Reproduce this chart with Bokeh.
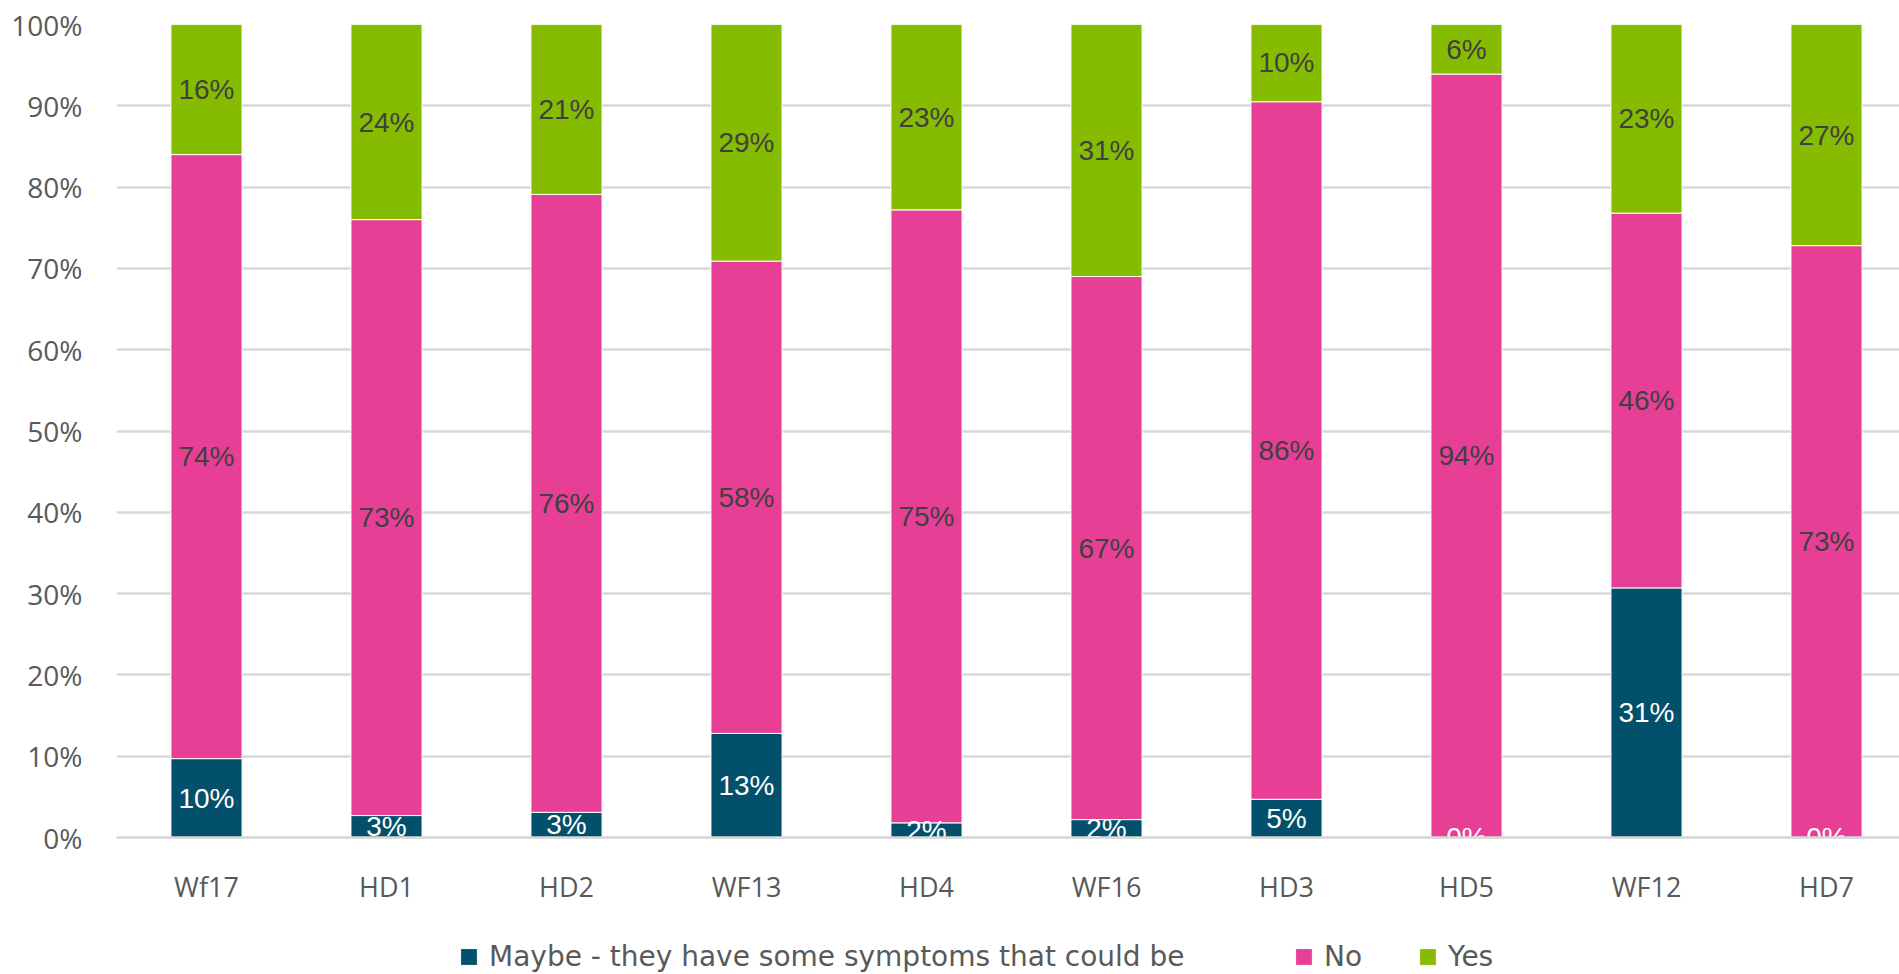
from bokeh.plotting import figure
from bokeh.models import (ColumnDataSource, Range1d, FixedTicker, PrintfTickFormatter,
                          Legend, LegendItem, Span)
from bokeh.core.properties import value
from bokeh.embed import file_html
from bokeh.resources import INLINE

categories = ["Wf17", "HD1", "HD2", "WF13", "HD4", "WF16", "HD3", "HD5", "WF12", "HD7"]
maybe = [9.7, 2.7, 3.1, 12.8, 1.8, 2.2, 4.7, 0.0, 30.7, 0.0]
no = [74.3, 73.3, 76.0, 58.1, 75.4, 66.8, 85.8, 93.9, 46.1, 72.8]
yes = [16.0, 24.0, 20.9, 29.1, 22.8, 31.0, 9.6, 6.1, 23.2, 27.2]
series_names = ["Maybe - they have some symptoms that could be", "No", "Yes"]
colors = ["#02506B", "#E83F96", "#86BC00"]
label_colors = ["white", "#404040", "#404040"]
y_ticks = [0, 10, 20, 30, 40, 50, 60, 70, 80, 90, 100]

# layout (pixels)
W, H = 1899, 974
LEFT, TOP = 116, 24
PLOT_H = 813           # height of the 0-100% band
step_px = 180.0        # pixels per category
frame_w = W - LEFT
px_per_unit = PLOT_H / 100.0
below_px = H - TOP - PLOT_H

xs = list(range(len(categories)))
src = ColumnDataSource(dict(x=xs, maybe=maybe, no=no, yes=yes))

p = figure(width=W, height=H, output_backend="svg", toolbar_location=None,
           x_range=Range1d(-0.5, -0.5 + frame_w / step_px),
           y_range=Range1d(-below_px / px_per_unit, 100),
           min_border_left=LEFT, min_border_right=0, min_border_top=TOP,
           min_border_bottom=0)
p.outline_line_color = None
p.background_fill_color = "white"
p.border_fill_color = "white"

renderers = p.vbar_stack(["maybe", "no", "yes"], x="x", width=0.395, color=colors,
                         line_color="white", line_width=1, source=src)

# data labels
lx, ly, lt, lc = [], [], [], []
for i in range(len(categories)):
    base = 0.0
    for vals, col in zip([maybe, no, yes], label_colors):
        v = vals[i]
        lx.append(i)
        ly.append(base + v / 2.0)
        lt.append(f"{int(v + 0.5)}%")
        lc.append(col)
        base += v
lsrc = ColumnDataSource(dict(x=lx, y=ly, t=lt, c=lc))
p.text(x="x", y="y", text="t", text_color="c", source=lsrc, text_align="center",
       text_baseline="middle", text_font=value("Liberation Sans"), text_font_size="28px")

# baseline (drawn above the labels that hang below 0)
p.add_layout(Span(location=0, dimension="width", line_color="#D9D9D9",
                  line_width=2.5, level="overlay"))

# category labels under the bars
csrc = ColumnDataSource(dict(x=xs, y=[0] * len(xs), t=categories))
p.text(x="x", y="y", text="t", source=csrc, text_align="center", text_baseline="middle",
       y_offset=49, text_color="#595959", text_font=value("Open Sans"),
       text_font_size="27px")

# axes
p.xaxis.visible = False
p.yaxis.ticker = FixedTicker(ticks=y_ticks)
p.yaxis.formatter = PrintfTickFormatter(format="%d%%")
p.yaxis.axis_line_color = None
p.yaxis.major_tick_line_color = None
p.yaxis.major_tick_out = 0
p.yaxis.major_tick_in = 0
p.yaxis.minor_tick_line_color = None
p.yaxis.major_label_standoff = 34
p.yaxis.major_label_text_font = "Open Sans"
p.yaxis.major_label_text_font_size = "28px"
p.yaxis.major_label_text_color = "#595959"

p.xgrid.visible = False
p.ygrid.ticker = FixedTicker(ticks=y_ticks)
p.ygrid.grid_line_color = "#D9D9D9"
p.ygrid.grid_line_width = 2.5

# legend: one per item, positioned individually
legend_x = [342, 1177, 1301]
for r, name, lx0 in zip(renderers, series_names, legend_x):
    leg = Legend(items=[LegendItem(label=name, renderers=[r])], location=(lx0, 1),
                 orientation="horizontal", glyph_width=21, glyph_height=21,
                 label_height=21, label_standoff=10, padding=0, margin=0, spacing=0,
                 border_line_color=None, background_fill_alpha=0,
                 label_text_font="DejaVu Sans", label_text_font_size="28px",
                 label_text_color="#595959")
    p.add_layout(leg)

open("out.html", "w").write(file_html(p, INLINE))
